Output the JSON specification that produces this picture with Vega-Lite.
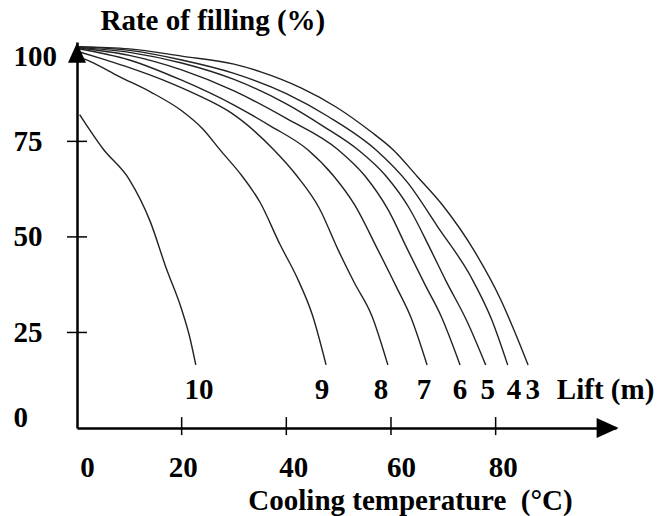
{
  "$schema": "https://vega.github.io/schema/vega-lite/v6.json",
  "width": 539,
  "height": 386,
  "autosize": {"type": "none"},
  "padding": {"left": 77, "top": 42, "right": 52, "bottom": 88},
  "background": "white",
  "config": {
    "view": {"stroke": null},
    "font": "Liberation Serif",
    "axis": {"grid": false, "ticks": false, "domainColor": "black", "domainWidth": 2.5, "labelColor": "black", "titleColor": "black", "labelFont": "Liberation Serif", "titleFont": "Liberation Serif", "labelFontWeight": "bold", "titleFontWeight": "bold", "labelFontSize": 29, "titleFontSize": 29, "labelOverlap": false, "labelFlush": false}
  },
  "datasets": {
    "curves": [
      {"lift": "3", "t": 0, "rate": 99.8}, {"lift": "3", "t": 10, "rate": 99.2}, {"lift": "3", "t": 20, "rate": 97.3}, {"lift": "3", "t": 30, "rate": 95.2}, {"lift": "3", "t": 35.1, "rate": 93.2}, {"lift": "3", "t": 42.8, "rate": 89.0}, {"lift": "3", "t": 49.5, "rate": 84.0}, {"lift": "3", "t": 56.2, "rate": 77.5}, {"lift": "3", "t": 60.4, "rate": 72.8}, {"lift": "3", "t": 65.1, "rate": 65.7}, {"lift": "3", "t": 69.8, "rate": 58.4}, {"lift": "3", "t": 75.8, "rate": 46.6}, {"lift": "3", "t": 81.0, "rate": 33.5}, {"lift": "3", "t": 83.7, "rate": 25.0}, {"lift": "3", "t": 86.2, "rate": 16.5},
      {"lift": "4", "t": 0, "rate": 99.8}, {"lift": "4", "t": 10, "rate": 98.8}, {"lift": "4", "t": 20, "rate": 96.3}, {"lift": "4", "t": 30, "rate": 92.8}, {"lift": "4", "t": 40, "rate": 87.5}, {"lift": "4", "t": 48, "rate": 81.5}, {"lift": "4", "t": 57.1, "rate": 72.8}, {"lift": "4", "t": 63.3, "rate": 64.0}, {"lift": "4", "t": 69.0, "rate": 52.5}, {"lift": "4", "t": 75.3, "rate": 39.5}, {"lift": "4", "t": 79.2, "rate": 28.5}, {"lift": "4", "t": 82.3, "rate": 16.5},
      {"lift": "5", "t": 0, "rate": 99.6}, {"lift": "5", "t": 10, "rate": 98.3}, {"lift": "5", "t": 20, "rate": 95.5}, {"lift": "5", "t": 30, "rate": 91.2}, {"lift": "5", "t": 40, "rate": 84.8}, {"lift": "5", "t": 47, "rate": 79.0}, {"lift": "5", "t": 53.7, "rate": 72.8}, {"lift": "5", "t": 59, "rate": 66.0}, {"lift": "5", "t": 63.5, "rate": 57.5}, {"lift": "5", "t": 67.6, "rate": 46.6}, {"lift": "5", "t": 70.5, "rate": 38.5}, {"lift": "5", "t": 74.5, "rate": 28.0}, {"lift": "5", "t": 78.1, "rate": 16.5},
      {"lift": "6", "t": 0, "rate": 99.5}, {"lift": "6", "t": 10, "rate": 97.5}, {"lift": "6", "t": 20, "rate": 93.7}, {"lift": "6", "t": 30, "rate": 88.2}, {"lift": "6", "t": 40, "rate": 81.0}, {"lift": "6", "t": 49.9, "rate": 72.8}, {"lift": "6", "t": 55, "rate": 66.0}, {"lift": "6", "t": 59.5, "rate": 57.0}, {"lift": "6", "t": 63.2, "rate": 46.6}, {"lift": "6", "t": 66.5, "rate": 37.5}, {"lift": "6", "t": 69.5, "rate": 29.5}, {"lift": "6", "t": 73.2, "rate": 16.5},
      {"lift": "7", "t": 0, "rate": 99.3}, {"lift": "7", "t": 10, "rate": 96.3}, {"lift": "7", "t": 20, "rate": 91.0}, {"lift": "7", "t": 30, "rate": 84.5}, {"lift": "7", "t": 37, "rate": 79.0}, {"lift": "7", "t": 44.1, "rate": 72.8}, {"lift": "7", "t": 49, "rate": 66.0}, {"lift": "7", "t": 53, "rate": 58.5}, {"lift": "7", "t": 57.5, "rate": 46.6}, {"lift": "7", "t": 61, "rate": 37.0}, {"lift": "7", "t": 63.8, "rate": 29.0}, {"lift": "7", "t": 66.9, "rate": 16.5},
      {"lift": "8", "t": 0, "rate": 98.6}, {"lift": "8", "t": 5, "rate": 96.5}, {"lift": "8", "t": 10, "rate": 94.3}, {"lift": "8", "t": 18, "rate": 90.2}, {"lift": "8", "t": 24, "rate": 86.5}, {"lift": "8", "t": 29.4, "rate": 82.5}, {"lift": "8", "t": 37.6, "rate": 72.8}, {"lift": "8", "t": 42, "rate": 66.0}, {"lift": "8", "t": 46.3, "rate": 57.5}, {"lift": "8", "t": 49.9, "rate": 46.6}, {"lift": "8", "t": 53, "rate": 38.0}, {"lift": "8", "t": 56.3, "rate": 29.5}, {"lift": "8", "t": 59.4, "rate": 16.5},
      {"lift": "9", "t": 0, "rate": 97.3}, {"lift": "9", "t": 2.7, "rate": 95.8}, {"lift": "9", "t": 8, "rate": 92.0}, {"lift": "9", "t": 14.1, "rate": 87.9}, {"lift": "9", "t": 20, "rate": 83.0}, {"lift": "9", "t": 24, "rate": 78.3}, {"lift": "9", "t": 27.5, "rate": 72.5}, {"lift": "9", "t": 31.5, "rate": 66.0}, {"lift": "9", "t": 35, "rate": 59.0}, {"lift": "9", "t": 38.8, "rate": 48.0}, {"lift": "9", "t": 42, "rate": 39.5}, {"lift": "9", "t": 45, "rate": 29.5}, {"lift": "9", "t": 47.6, "rate": 16.5},
      {"lift": "10", "t": 0.5, "rate": 82.0}, {"lift": "10", "t": 5, "rate": 73.0}, {"lift": "10", "t": 10, "rate": 65.0}, {"lift": "10", "t": 14, "rate": 54.0}, {"lift": "10", "t": 17, "rate": 42.0}, {"lift": "10", "t": 20, "rate": 31.0}, {"lift": "10", "t": 21.5, "rate": 24.0}, {"lift": "10", "t": 22.7, "rate": 16.5}
    ],
    "curveLabels": [
      {"label": "10", "t": 23.3, "rate": 10},
      {"label": "9", "t": 46.8, "rate": 10},
      {"label": "8", "t": 58.1, "rate": 10},
      {"label": "7", "t": 66.3, "rate": 10},
      {"label": "6", "t": 73.2, "rate": 10},
      {"label": "5", "t": 78.5, "rate": 10},
      {"label": "4", "t": 83.5, "rate": 10},
      {"label": "3", "t": 87.1, "rate": 10}
    ],
    "unitLabel": [{"label": "Lift (m)", "t": 91.7, "rate": 10}],
    "xTicks": [{"t": 20}, {"t": 40}, {"t": 60}, {"t": 80}],
    "yTicks": [{"rate": 25}, {"rate": 50}, {"rate": 75}]
  },
  "layer": [
    {
      "data": {"name": "curves"},
      "mark": {"type": "line", "interpolate": "monotone", "color": "#222222", "strokeWidth": 1.4},
      "encoding": {
        "x": {
          "field": "t", "type": "quantitative",
          "scale": {"domain": [0, 103], "nice": false, "zero": false},
          "axis": {
            "values": [0, 20, 40, 60, 80],
            "title": "Cooling temperature \u00a0(°C)",
            "labelBaseline": "middle",
            "labelPadding": 39,
            "labelOffset": {"condition": [{"test": "datum.value === 0", "value": 10}, {"test": "datum.value === 20", "value": 1}, {"test": "datum.value === 60", "value": 10}], "value": 7},
            "titleAngle": 0,
            "titleAlign": "center",
            "titleBaseline": "middle",
            "titleX": 333,
            "titleY": 72
          }
        },
        "y": {
          "field": "rate", "type": "quantitative",
          "scale": {"domain": [0, 101], "nice": false, "zero": false},
          "axis": {
            "values": [0, 25, 50, 75, 100],
            "title": "Rate of filling (%)",
            "labelAlign": "left",
            "labelBaseline": "middle",
            "labelPadding": 64,
            "labelOffset": {"condition": [{"test": "datum.value === 100", "value": 11}, {"test": "datum.value === 0", "value": -11}], "value": 0},
            "titleAngle": 0,
            "titleAlign": "left",
            "titleBaseline": "middle",
            "titleX": 23,
            "titleY": -22
          }
        },
        "detail": {"field": "lift", "type": "nominal"}
      }
    },
    {
      "data": {"name": "xTicks"},
      "mark": {"type": "tick", "orient": "vertical", "size": 18, "thickness": 1.5, "color": "black", "opacity": 1},
      "encoding": {
        "x": {"field": "t", "type": "quantitative"},
        "y": {"datum": 0.5, "type": "quantitative"}
      }
    },
    {
      "data": {"name": "yTicks"},
      "mark": {"type": "tick", "orient": "horizontal", "size": 20, "thickness": 1.5, "color": "black", "opacity": 1},
      "encoding": {
        "x": {"datum": 0, "type": "quantitative"},
        "y": {"field": "rate", "type": "quantitative"}
      }
    },
    {
      "data": {"name": "curveLabels"},
      "mark": {"type": "text", "font": "Liberation Serif", "fontWeight": "bold", "fontSize": 29, "align": "center", "baseline": "middle", "color": "black"},
      "encoding": {
        "x": {"field": "t", "type": "quantitative"},
        "y": {"field": "rate", "type": "quantitative"},
        "text": {"field": "label"}
      }
    },
    {
      "data": {"name": "unitLabel"},
      "mark": {"type": "text", "font": "Liberation Serif", "fontWeight": "bold", "fontSize": 29, "align": "left", "baseline": "middle", "color": "black"},
      "encoding": {
        "x": {"field": "t", "type": "quantitative"},
        "y": {"field": "rate", "type": "quantitative"},
        "text": {"field": "label"}
      }
    },
    {
      "data": {"values": [{}]},
      "mark": {"type": "point", "shape": "M0,-1L-0.9,1L0.9,1Z", "size": 400, "filled": true, "color": "black", "opacity": 1, "strokeWidth": 0},
      "encoding": {
        "x": {"datum": 0, "type": "quantitative"},
        "y": {"datum": 98.2, "type": "quantitative"}
      }
    },
    {
      "data": {"values": [{}]},
      "mark": {"type": "point", "shape": "M1,0L-1,-0.9L-1,0.9Z", "size": 484, "filled": true, "color": "black", "opacity": 1, "strokeWidth": 0},
      "encoding": {
        "x": {"datum": 101.4, "type": "quantitative"},
        "y": {"datum": 0, "type": "quantitative"}
      }
    }
  ]
}
